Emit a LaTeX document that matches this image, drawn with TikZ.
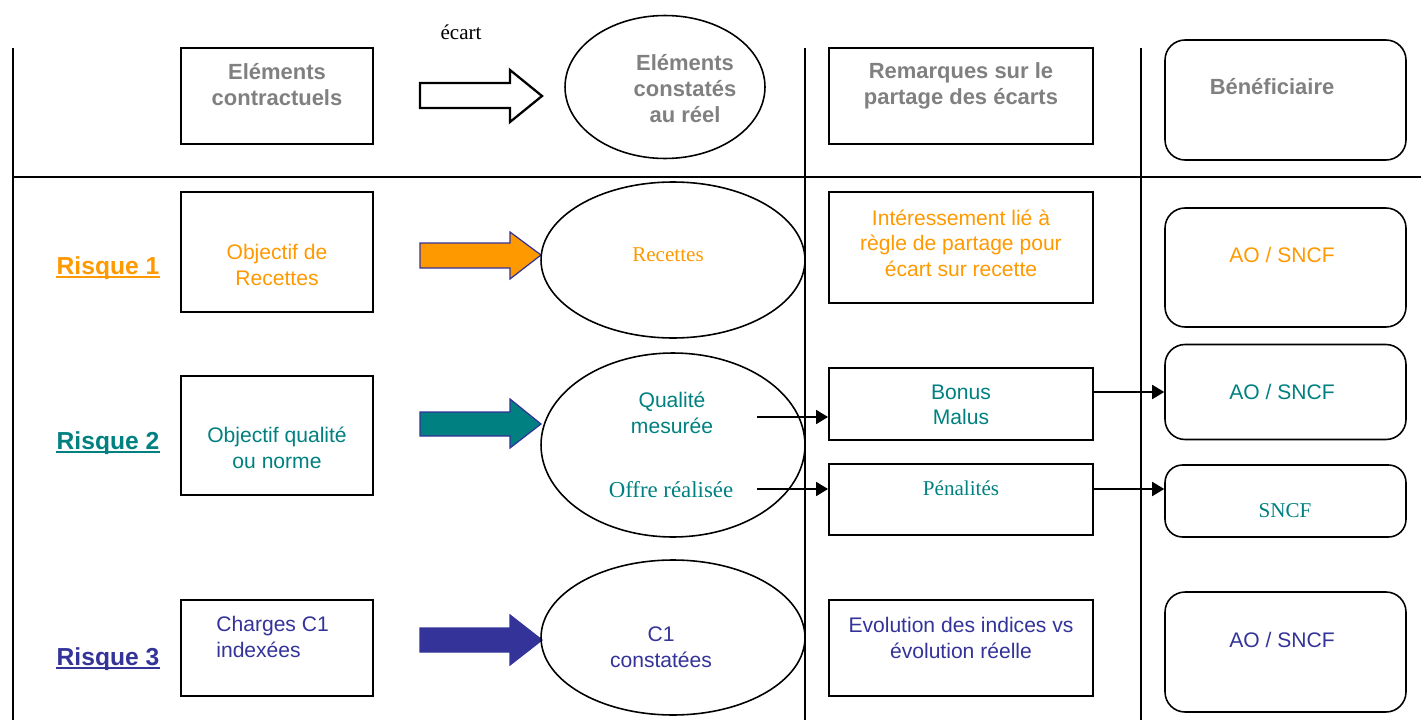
\documentclass[tikz,border=0pt]{standalone}
\usepackage{fontspec}
\setmainfont{Liberation Serif}
\setsansfont{Liberation Sans}
\usetikzlibrary{shapes.geometric,arrows.meta}
\definecolor{risqueA}{HTML}{FF9900}
\definecolor{risqueB}{HTML}{008080}
\definecolor{risqueC}{HTML}{333399}
\definecolor{entete}{HTML}{808080}
\tikzset{
	cadre/.style={draw, line width=1.1pt, inner sep=0pt},
	cadrerond/.style={draw, line width=0.9pt, rounded corners=0.4cm, inner sep=0pt},
	bulle/.style={ellipse, draw, line width=0.9pt, inner sep=0pt},
	texte/.style={font=\sffamily\fontsize{12}{14.5}\selectfont, align=center, inner sep=0pt},
	titre/.style={font=\sffamily\bfseries\fontsize{12.5}{14.8}\selectfont, text=entete, align=center, inner sep=0pt},
	romain/.style={font=\rmfamily\fontsize{12}{14}\selectfont, inner sep=0pt},
	risque/.style={font=\sffamily\bfseries\fontsize{14}{16}\selectfont, inner sep=0pt},
	fleche/.style={line width=1pt, -{Triangle[length=0.24cm, width=0.28cm]}},
	bloc/.style={draw=risqueC, line width=0.7pt, line join=miter},
}

\begin{document}
\begin{tikzpicture}[x=0.02cm, y=-0.02cm]
	\useasboundingbox (0, 0) rectangle (1421, 720);
	% Grid lines:
	\draw[line width=0.7pt] (13, 48) -- (13, 720);
	\draw[line width=1.2pt] (13, 177) -- (1421, 177);
	\draw[line width=0.6pt] (805, 48) -- (805, 720);
	\draw[line width=0.6pt] (1141, 48) -- (1141, 720);
	% Header row:
	\node[cadre, minimum width=3.84cm, minimum height=1.92cm] (hcon) at (277, 96){};
	\node[titre] at (277, 85){Eléments\\contractuels};
	\draw[line width=1.3pt, fill=white] (420, 83) -- (510, 83) -- (510, 70) -- (542, 96) -- (510, 122) -- (510, 108) -- (420, 108) -- cycle;
	\node[romain] (ecart) at (461, 32){écart};
	\node[bulle, minimum width=4cm, minimum height=2.86cm] (hobs) at (665, 87){};
	\node[titre] at (685, 89){Eléments\\constatés\\au réel};
	\node[cadre, minimum width=5.28cm, minimum height=1.92cm] (hrem) at (961, 96){};
	\node[titre] at (961, 86){Remarques sur le\\partage des écarts};
	\node[cadrerond, minimum width=4.82cm, minimum height=2.4cm] (hben) at (1285.5, 100){};
	\node[titre] at (1272, 87){Bénéficiaire};
	% Risque 1:
	\node[risque, text=risqueA] (r1lab) at (108, 268){Risque 1};
	\draw[risqueA, line width=1.5pt] ([yshift=-1.6pt]r1lab.base west) -- ([yshift=-1.6pt]r1lab.base east);
	\node[cadre, minimum width=3.84cm, minimum height=2.4cm] (r1obj) at (277, 252){};
	\node[texte, text=risqueA] at (277, 265){Objectif de\\Recettes};
	\draw[bloc, fill=risqueA] (420, 243) -- (510, 243) -- (510, 232) -- (541, 255) -- (510, 279) -- (510, 268) -- (420, 268) -- cycle;
	\node[bulle, minimum width=5.28cm, minimum height=3.12cm] (r1rec) at (673, 260){};
	\node[romain, text=risqueA] at (668, 255){Recettes};
	\node[cadre, minimum width=5.28cm, minimum height=2.22cm] (r1rem) at (961, 247.5){};
	\node[texte, text=risqueA] at (961, 243){Intéressement lié à\\règle de partage pour\\écart sur recette};
	\node[cadrerond, minimum width=4.82cm, minimum height=2.38cm] (r1ben) at (1285.5, 267.5){};
	\node[texte, text=risqueA] at (1282, 255){AO / SNCF};
	% Risque 2:
	\node[risque, text=risqueB] (r2lab) at (108, 443){Risque 2};
	\draw[risqueB, line width=1.5pt] ([yshift=-1.6pt]r2lab.base west) -- ([yshift=-1.6pt]r2lab.base east);
	\node[cadre, minimum width=3.84cm, minimum height=2.38cm] (r2obj) at (277, 435.5){};
	\node[texte, text=risqueB] at (277, 448){Objectif qualité\\ou norme};
	\draw[bloc, fill=risqueB] (420, 412) -- (510, 412) -- (510, 399) -- (541, 424) -- (510, 448) -- (510, 436) -- (420, 436) -- cycle;
	\node[bulle, minimum width=5.28cm, minimum height=3.68cm] (r2qual) at (673, 445){};
	\node[texte, text=risqueB] (qual) at (672, 413){Qualité\\mesurée};
	\node[romain, text=risqueB, font=\rmfamily\fontsize{13}{15}\selectfont] (offre) at (671, 490){Offre réalisée};
	\coordinate (qualout) at (757, 417);
	\coordinate (offreout) at (757, 489);
	\node[cadre, minimum width=5.28cm, minimum height=1.44cm] (bonus) at (961, 404){};
	\node[texte, text=risqueB] at (961, 405){Bonus\\Malus};
	\node[cadre, minimum width=5.28cm, minimum height=1.42cm] (pen) at (961, 499.5){};
	\node[romain, text=risqueB] at (961, 488){Pénalités};
	\node[cadrerond, minimum width=4.82cm, minimum height=1.9cm] (r2ben) at (1285.5, 392){};
	\node[texte, text=risqueB] at (1282, 392){AO / SNCF};
	\node[cadrerond, rounded corners=0.35cm, minimum width=4.82cm, minimum height=1.44cm] (sncf) at (1285.5, 501){};
	\node[romain, text=risqueB] at (1285, 511){SNCF};
	\draw[fleche] (qualout) -- (qualout -| bonus.west);
	\draw[fleche] (offreout) -- (offreout -| pen.west);
	\draw[fleche] (bonus.east |- r2ben.west) -- (r2ben.west);
	\draw[fleche] (pen.east |- offreout) -- (sncf.west |- offreout);
	% Risque 3:
	\node[risque, text=risqueC] (r3lab) at (108, 659){Risque 3};
	\draw[risqueC, line width=1.5pt] ([yshift=-1.6pt]r3lab.base west) -- ([yshift=-1.6pt]r3lab.base east);
	\node[cadre, minimum width=3.84cm, minimum height=1.92cm] (r3obj) at (277, 648){};
	\node[texte, text=risqueC, align=left, anchor=west] at (216, 637){Charges C1\\ indexées};
	\draw[bloc, fill=risqueC] (420, 628) -- (510, 628) -- (510, 615) -- (542, 640) -- (510, 665) -- (510, 652) -- (420, 652) -- cycle;
	\node[bulle, minimum width=5.28cm, minimum height=3.1cm] (r3c1) at (673, 637.5){};
	\node[texte, text=risqueC] at (661, 647){C1\\constatées};
	\node[cadre, minimum width=5.28cm, minimum height=1.92cm] (r3rem) at (961, 648){};
	\node[texte, text=risqueC] at (961, 638){Evolution des indices vs\\évolution réelle};
	\node[cadrerond, minimum width=4.82cm, minimum height=2.4cm] (r3ben) at (1285.5, 652){};
	\node[texte, text=risqueC] at (1282, 640){AO / SNCF};
\end{tikzpicture}
\end{document}
